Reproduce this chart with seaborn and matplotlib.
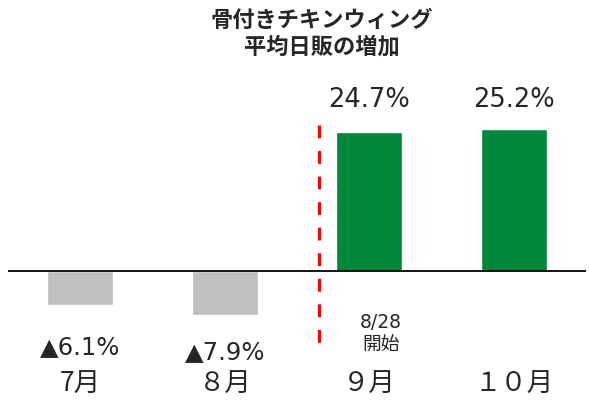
import matplotlib
matplotlib.use('Agg')
import matplotlib.pyplot as plt
import numpy as np
import pandas as pd
import seaborn as sns

# data
months = ['7月', '８月', '９月', '１０月']
growth = [-6.1, -7.9, 24.7, 25.2]
bar_colors = ['#BFBFBF', '#BFBFBF', '#00883A', '#00883A']
title_lines = ['骨付きチキンウィング', '平均日販の増加']
start_note = '8/28\n開始'

df = pd.DataFrame({'month': months, 'growth': growth})

sns.set_style('white')
plt.rcParams['font.family'] = ['Noto Sans CJK JP', 'DejaVu Sans']

fig = plt.figure(figsize=(5.89, 4.18), dpi=100)
ax = fig.add_axes([8 / 589, 0, 578 / 589, 1])

sns.barplot(data=df, x='month', y='growth', hue='month', palette=bar_colors,
            width=0.46, legend=False, ax=ax, saturation=1)

ax.set_xlim(-0.5, 3.5)
ax.set_ylim(-26.1, 48.1)
ax.axhline(0, color='black', lw=1.3, zorder=3)

# start of campaign marker
ax.plot([1.65, 1.65], [25.9, -14.9], color='#FF0000', lw=2.3,
        dashes=(4, 4), zorder=4)
ax.text(2.08, -11.1, start_note, ha='center', va='center', fontsize=13.5,
        linespacing=1.25, family=['DejaVu Sans', 'Noto Sans CJK JP'])

# value labels
for i, v in enumerate(growth):
    if v >= 0:
        ax.text(i, 30.4, f'{v:.1f}%', ha='center', va='center',
                fontsize=18.5, family=['DejaVu Sans'])
    else:
        ax.text(i, v * 0.5 - 10.5, f'▲{abs(v):.1f}%', ha='center',
                va='center', fontsize=17.5, family=['DejaVu Sans'])
    ax.text(i, -20.2, months[i], ha='center', va='center', fontsize=19)

ax.axis('off')

fig.text(322 / 589, 1 - 20 / 418, title_lines[0], ha='center', va='center',
         fontsize=16, fontweight='bold')
fig.text(322 / 589, 1 - 47 / 418, title_lines[1], ha='center', va='center',
         fontsize=16, fontweight='bold')

fig.savefig('out.png', dpi=100)
